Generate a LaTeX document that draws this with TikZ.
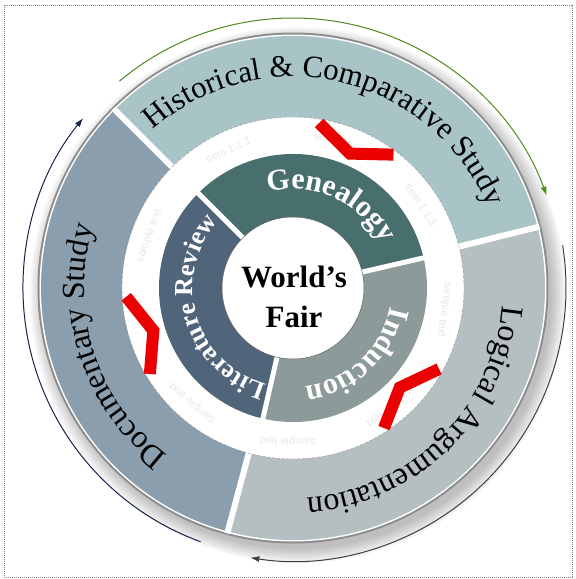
\documentclass[tikz,border=0pt]{standalone}
\usepackage{fontspec}
\setmainfont{Liberation Serif}
\newfontfamily\itemfont{Liberation Sans}
\usetikzlibrary{decorations.text, arrows.meta}

\definecolor{histfill}{RGB}{168,196,198}
\definecolor{docfill}{RGB}{138,158,174}
\definecolor{logfill}{RGB}{181,190,192}
\definecolor{geneafill}{RGB}{72,110,110}
\definecolor{litfill}{RGB}{80,101,122}
\definecolor{inducfill}{RGB}{140,154,153}
\definecolor{chevred}{RGB}{235,0,0}
\definecolor{greenarc}{RGB}{78,138,30}
\definecolor{navyarc}{RGB}{22,36,72}
\definecolor{grayarc}{RGB}{58,64,66}

\begin{document}
\begin{tikzpicture}[x=1pt, y=1pt,
    gapline/.style={white, line width=6pt},
    chevron/.style={chevred, line width=12pt, line join=miter},
    faint/.style={text=black!9, font=\itemfont\fontsize{11}{12}\selectfont},
    cyclearc/.style={line width=1pt, -{Latex[length=9pt, width=6pt]}}]
    \useasboundingbox (-293,-291) rectangle (283,288);

    % shadow and rim
    \foreach \r in {254,256,...,268}
        \fill[black, opacity=0.035] (5,-7) circle[radius=\r];
    \fill[black!45] (0,0) circle[radius=255.5];
    \fill[white] (0,0) circle[radius=253.5];

    % outer band
    \foreach \a/\b/\c in {14/135/histfill, 135/255/docfill, 255/374/logfill}
        \fill[\c] (\a:252) arc[start angle=\a, end angle=\b, radius=252]
            -- (\b:171) arc[start angle=\b, end angle=\a, radius=171] -- cycle;
    \foreach \a in {14,135,255}
        \draw[gapline] (\a:169) -- (\a:254);
    \draw[black!40, line width=0.4pt, densely dashed] (0,0) circle[radius=171];

    % faint placeholder texts
    \foreach \a/\t [count=\i] in {115/item 1.1.1, 73/item 1.1.2, 33/item 1.1.3,
        -8/sample text, -51/sample text, 268/sample text, 229/sample text, 160/sample text}
        \node[faint, rotate=\a-90] (faint\i) at (\a:153) {\t};

    % inner band
    \foreach \a/\b/\c in {13/135/geneafill, 135/257/litfill, 257/373/inducfill}
        \fill[\c] (\a:134) arc[start angle=\a, end angle=\b, radius=134]
            -- (\b:71) arc[start angle=\b, end angle=\a, radius=71] -- cycle;
    \foreach \a in {13,135,257}
        \draw[gapline, line width=5pt] (\a:69) -- (\a:136);
    \draw[black!60, line width=0.5pt] (0,0) circle[radius=71];

    % chevrons
    \foreach \c in {67,197,317}
        \draw[chevron] (\c+14:167) -- (\c:146) -- (\c-14:167);

    % outer labels
    \path[decorate, decoration={text along path, text align=center,
        text={|\fontsize{31}{33}\selectfont|Historical {\&} Comparative Study}}]
        (140:211) arc[start angle=140, end angle=14, radius=211];
    \path[decorate, decoration={text along path, text align=center,
        text={|\fontsize{32}{34}\selectfont|Logical Argumentation}}]
        (15:210) arc[start angle=15, end angle=-106, radius=210];
    \path[decorate, decoration={text along path, text align=center,
        text={|\fontsize{32}{34}\selectfont|Documentary Study}}]
        (255:209) arc[start angle=255, end angle=141, radius=209];

    % inner labels
    \path[decorate, decoration={text along path, text align=center,
        text={|\color{white}\bfseries\fontsize{30}{32}\selectfont|Genealogy}}]
        (125:99) arc[start angle=125, end angle=6, radius=99];
    \path[decorate, decoration={text along path, text align=center,
        text={|\color{white}\bfseries\fontsize{26}{28}\selectfont|Literature Review}}]
        (257:100) arc[start angle=257, end angle=136, radius=100];
    \path[decorate, decoration={text along path, text align=center,
        text={|\color{white}\bfseries\fontsize{30}{32}\selectfont|Induction}}]
        (12:99) arc[start angle=12, end angle=-106, radius=99];

    \node[align=center, font=\bfseries\fontsize{31}{40}\selectfont] (fair) at (1,-9) {World’s\\Fair};

    % cycle arrows
    \draw[cyclearc, greenarc] (130:270) arc[start angle=130, end angle=20, radius=270];
    \draw[cyclearc, navyarc] (250:270) arc[start angle=250, end angle=141, radius=270];
    \draw[cyclearc, grayarc] (9:273) arc[start angle=9, end angle=-99, radius=273];

    \draw[black!50, line width=0.6pt, dash pattern=on 1.2pt off 0.8pt] (-289,283) rectangle (279,-289);
\end{tikzpicture}
\end{document}
